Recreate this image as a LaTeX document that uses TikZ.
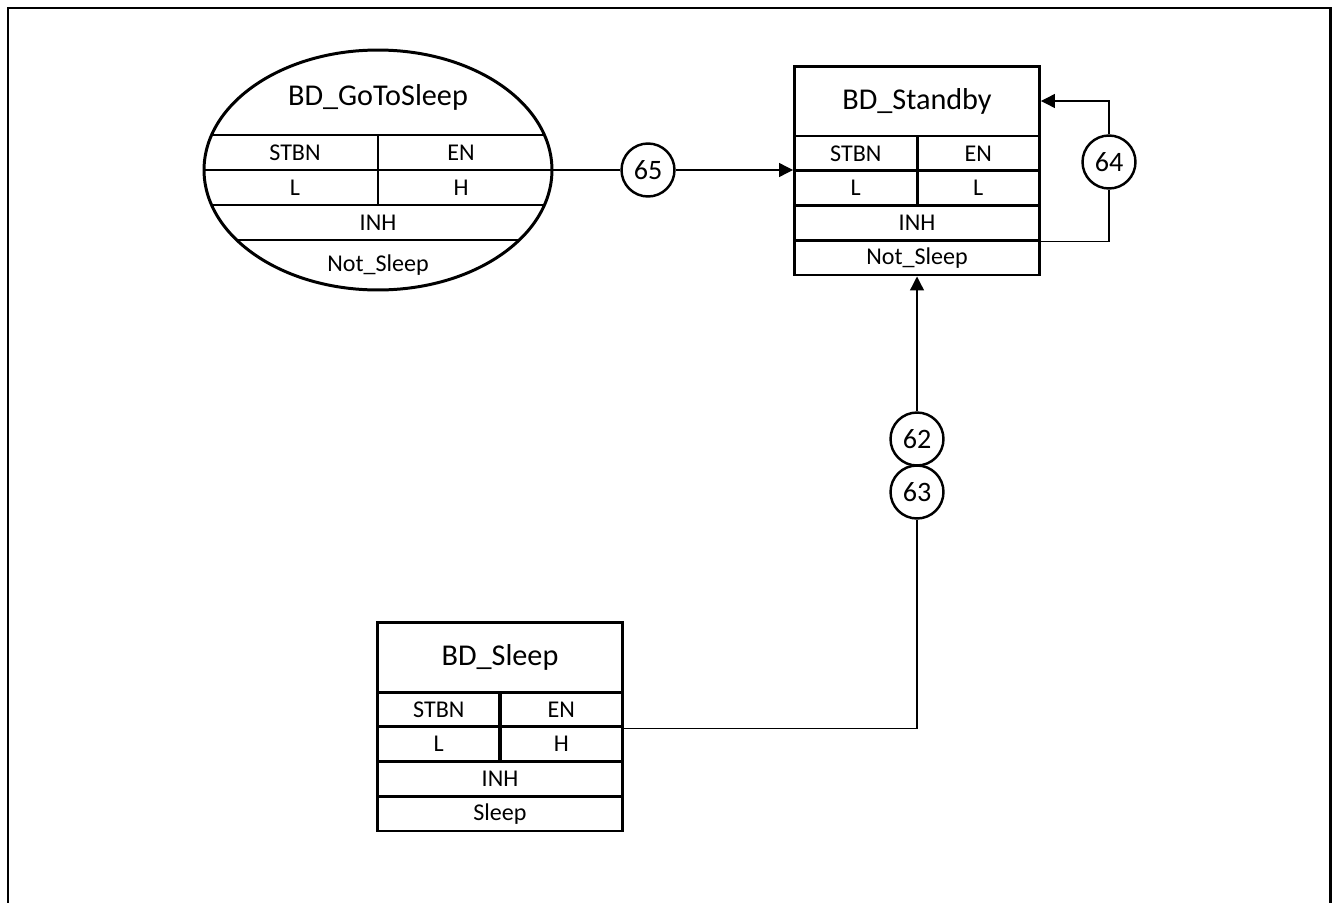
\documentclass[tikz,border=0pt]{standalone}
\usepackage{fontspec}
\setmainfont{Carlito}
\usetikzlibrary{arrows.meta,shapes.geometric}

\begin{document}
\begin{tikzpicture}[x=0.02cm, y=-0.02cm,
  cellbox/.style={draw, line width=1.7pt, minimum height=0.695cm, inner sep=0pt,
                  font=\fontsize{13.7}{16}\selectfont},
  wide/.style={cellbox, minimum width=4.9cm},
  half/.style={cellbox, minimum width=2.45cm},
  head/.style={wide, minimum height=1.4cm, font=\fontsize{17.2}{20}\selectfont},
  oval/.style={draw, ellipse, line width=1.7pt, minimum width=6.96cm,
               minimum height=4.8cm, inner sep=0pt},
  txt/.style={inner sep=0pt, font=\fontsize{13.7}{16}\selectfont},
  num/.style={draw, circle, fill=white, line width=1.4pt, minimum size=1.06cm,
              inner sep=0pt, font=\fontsize{16}{18}\selectfont},
  conn/.style={line width=0.75pt},
  arr/.style={conn, -{Triangle[length=0.28cm, width=0.28cm]}}]
  \useasboundingbox (0,0) rectangle (1333,903);
  \draw[line width=1.7pt] (8,920) -- (8,8) -- (1330,8) -- (1330,920);

  % BD_GoToSleep
  \node[oval] (gts) at (378,170) {};
  \begin{scope}
    \clip (378,170) ellipse [x radius=3.48cm, y radius=2.4cm];
    \draw[line width=1.7pt] (200,135) -- (560,135) (200,170) -- (560,170)
      (200,205) -- (560,205) (200,240) -- (560,240) (378,135) -- (378,205);
  \end{scope}
  \node[txt, font=\fontsize{17.2}{20}\selectfont] (gtsT) at (378,97) {BD\_GoToSleep};
  \node[txt] (gtsA) at (295,152.5) {STBN};
  \node[txt] (gtsB) at (461,152.5) {EN};
  \node[txt] (gtsC) at (295,187.5) {L};
  \node[txt] (gtsD) at (461,187.5) {H};
  \node[txt] (gtsE) at (378,222.5) {INH};
  \node[txt] (gtsF) at (378,265) {Not\_Sleep};

  % BD_Standby
  \node[head] (sbT) at (917,101) {BD\_Standby};
  \node[half] (sbA) at (855.75,153.375) {STBN};
  \node[half] (sbB) at (978.25,153.375) {EN};
  \node[half] (sbC) at (855.75,188.125) {L};
  \node[half] (sbD) at (978.25,188.125) {L};
  \node[wide] (sbE) at (917,222.875) {INH};
  \node[wide] (sbF) at (917,257.625) {Not\_Sleep};

  % BD_Sleep
  \node[head] (slT) at (500,657) {BD\_Sleep};
  \node[half] (slA) at (438.75,709.375) {STBN};
  \node[half] (slB) at (561.25,709.375) {EN};
  \node[half] (slC) at (438.75,744.125) {L};
  \node[half] (slD) at (561.25,744.125) {H};
  \node[wide] (slE) at (500,778.875) {INH};
  \node[wide] (slF) at (500,813.625) {Sleep};

  % transitions
  \node[num] (c65) at (648,170) {65};
  \node[num] (c64) at (1109,162) {64};
  \node[num] (c62) at (917,439) {62};
  \node[num] (c63) at (917,492) {63};
  \draw[conn] (gts.east) -- (c65);
  \draw[arr] (c65) -- (c65 -| sbA.west);
  \draw[conn] (sbE.south east) -| (c64);
  \draw[arr] (c64) |- (sbT.east);
  \draw[conn] (slB.south east) -| (c63);
  \draw[arr] (c62) -- (sbF.south);
\end{tikzpicture}
\end{document}
